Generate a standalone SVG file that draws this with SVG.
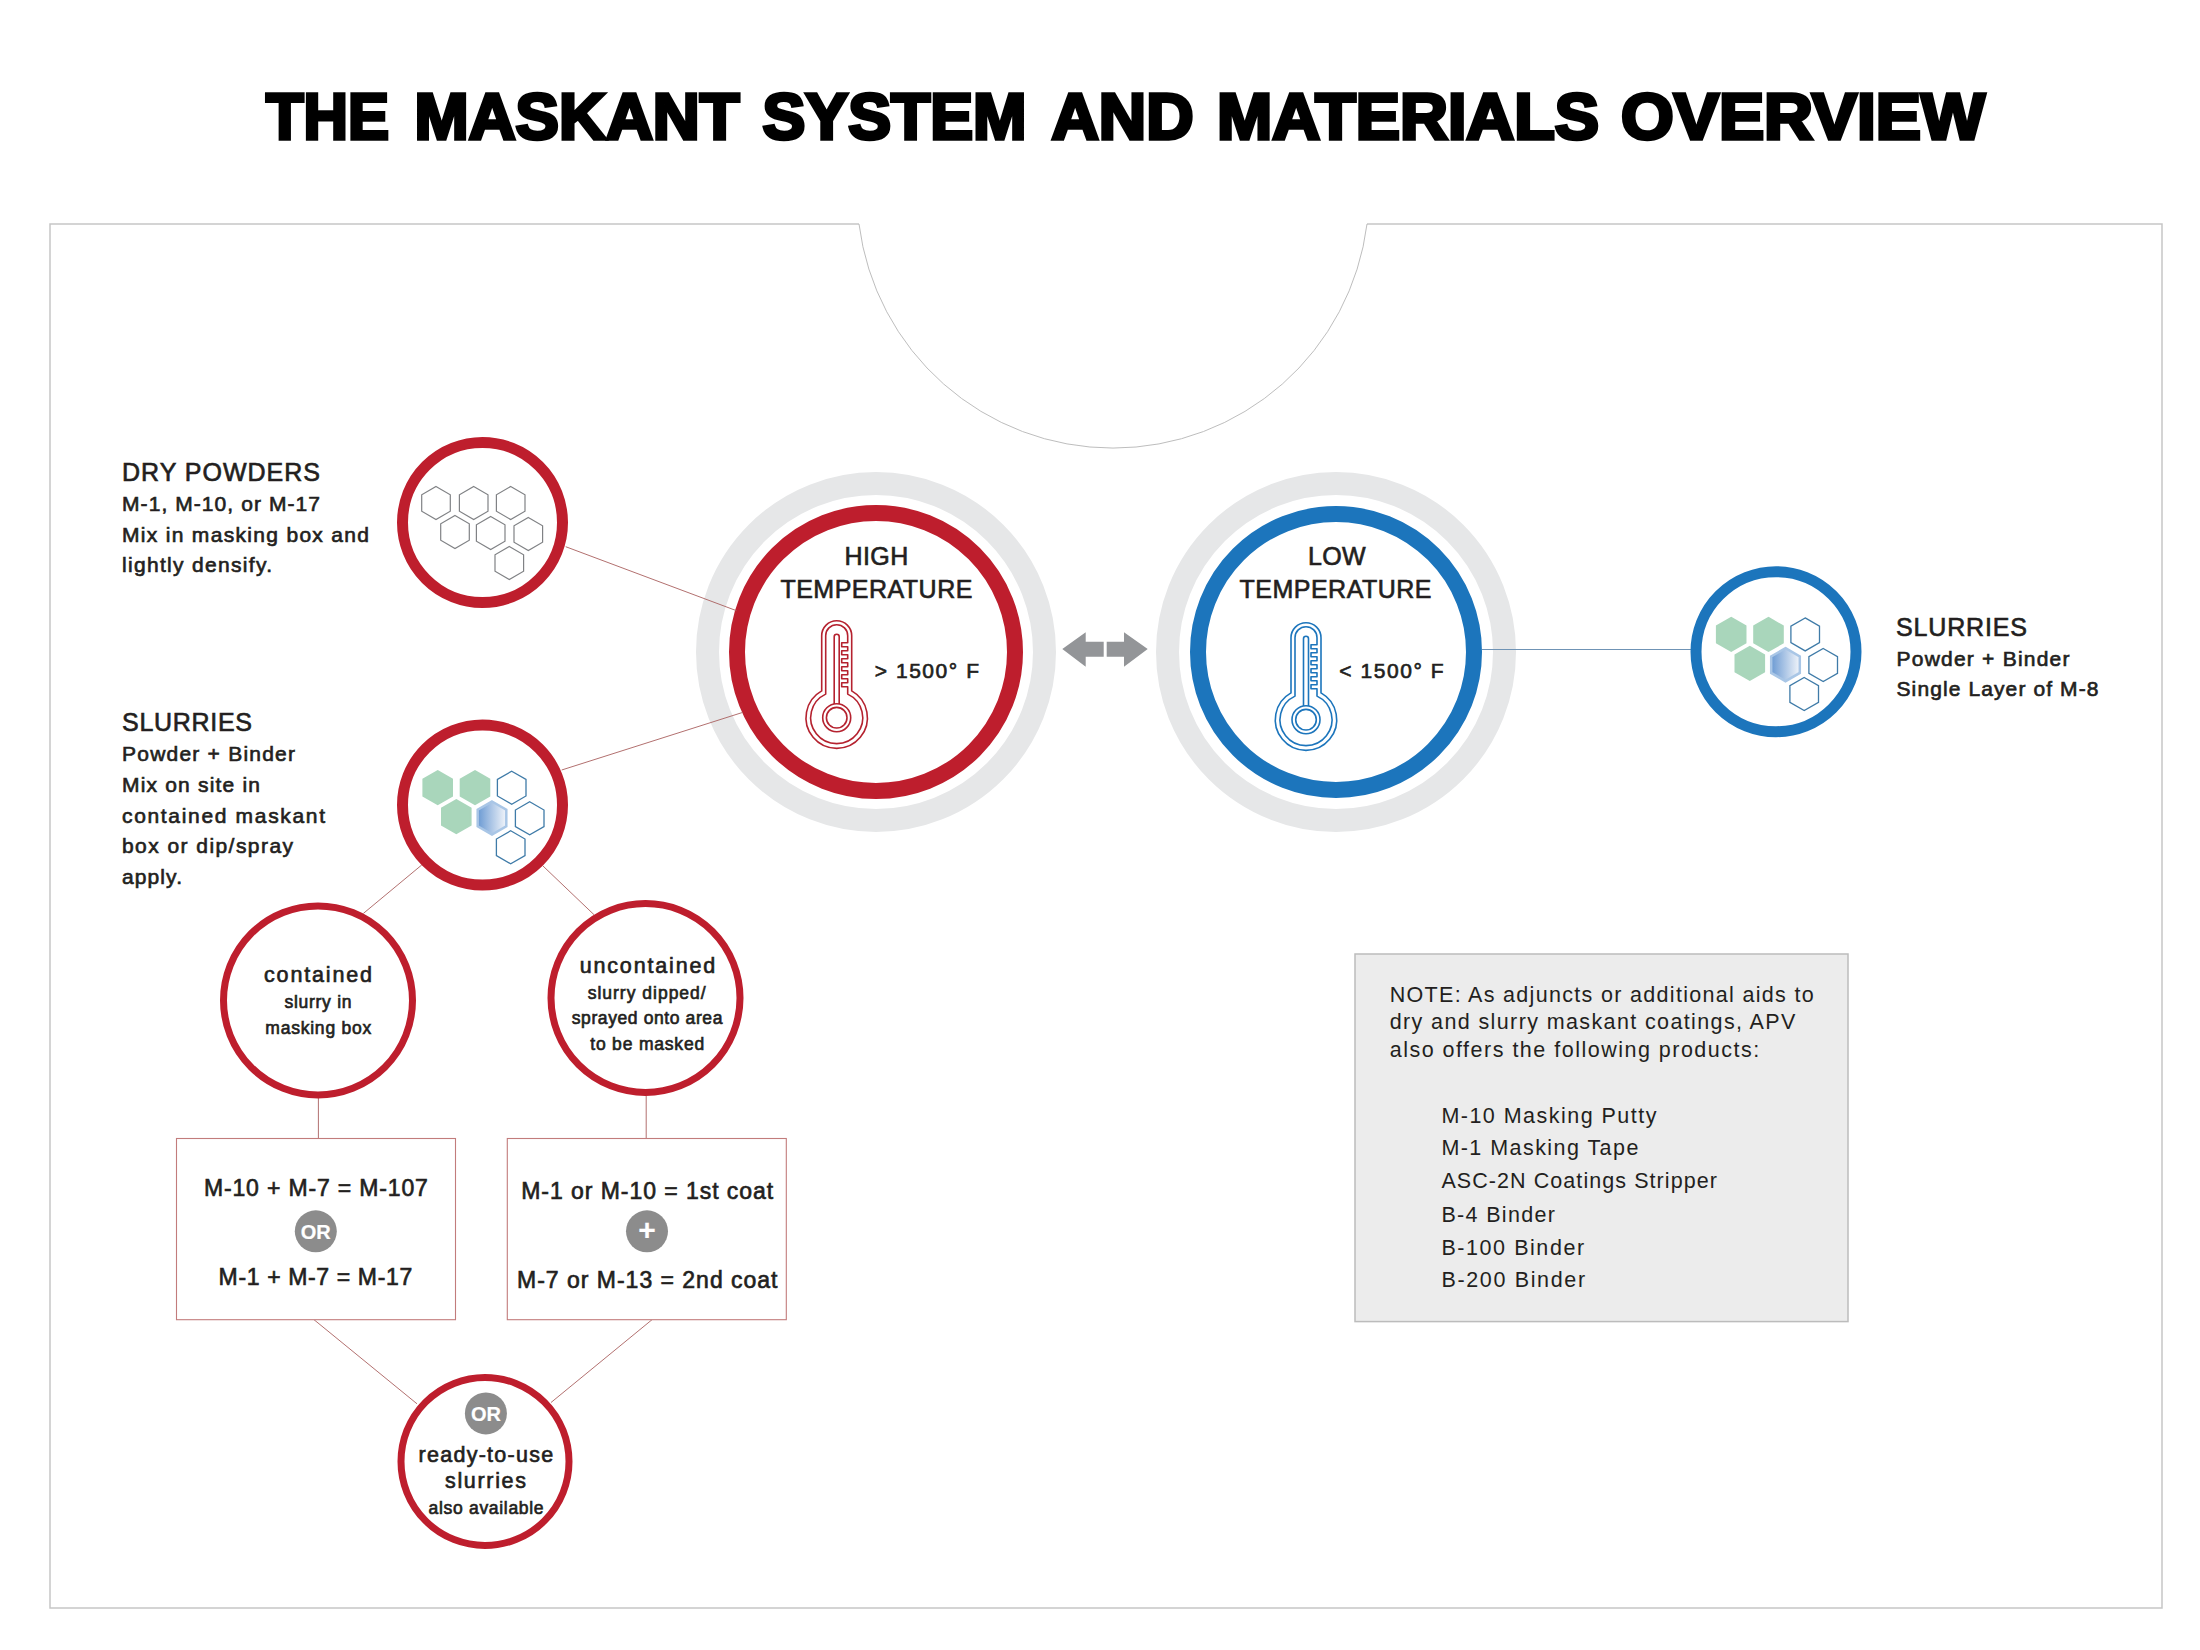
<svg xmlns="http://www.w3.org/2000/svg" width="2200" height="1650" viewBox="0 0 2200 1650">
<style>
text{font-family:"Liberation Sans",Arial,sans-serif;fill:#231f20;stroke:#231f20;stroke-width:.65}
.title{font-size:64px;font-weight:700;fill:#000;stroke:#000;stroke-width:3.6}
.h{font-size:25px}
.b{font-size:21px}
.s{font-size:17.5px}
.m{font-size:21.5px}
.eq{font-size:23px}
.n{font-size:21.5px;stroke-width:0}
.t{font-size:25px}
.w{fill:#fff;stroke:#fff;font-weight:700;font-size:20px;text-anchor:middle;stroke-width:.2}
.frame{fill:none;stroke:#c6c6c6;stroke-width:1.5}
.arc{fill:none;stroke:#b5b5b5;stroke-width:.9}
.ring{fill:#fff;stroke:#e6e7e8;stroke-width:23}
.red{fill:#fff;stroke:#be1e2d}
.blue{fill:#fff;stroke:#1c75bc}
.big{stroke-width:16}
.mid{stroke-width:11}
.sml{stroke-width:7}
.cr{fill:none;stroke:#a9605f;stroke-width:.9}
.cb{fill:none;stroke:#6f93b5;stroke-width:1}
.box{fill:#fff;stroke:#c27c7c;stroke-width:1.1}
.hg{fill:#fff;stroke:#808285;stroke-width:1.2}
.hb{fill:#fff;stroke:#3f7ba8;stroke-width:1.3}
.hgr{fill:#a9d6bb;stroke:#a9d6bb;stroke-width:2}
.hgd{fill:url(#hexgrad);stroke:#a9c6e6;stroke-width:2.5}
.orb{fill:#8c8c8c}
.note{fill:#ececec;stroke:#bcbcbc;stroke-width:1.5}
.arrow{fill:#939598}
.th{fill:none;stroke-width:1.6;stroke-linejoin:round}
</style>
<defs>
<linearGradient id="hexgrad" x1="0" x2="1" y1="0" y2="0"><stop offset="0" stop-color="#6b9ad3"/><stop offset="1" stop-color="#f2f5fa"/></linearGradient>
<polygon id="hex" points="0,-16.5 14.3,-8.25 14.3,8.25 0,16.5 -14.3,8.25 -14.3,-8.25"/>
<g id="hexset">
<use href="#hex" class="hgr" x="-44.8" y="-17.3"/>
<use href="#hex" class="hgr" x="-7.5" y="-17.3"/>
<use href="#hex" class="hgr" x="-26.2" y="11.7"/>
<use href="#hex" class="hgd" x="9.5" y="13"/>
<use href="#hex" class="hb" x="29.2" y="-17.3"/>
<use href="#hex" class="hb" x="47.2" y="13.3"/>
<use href="#hex" class="hb" x="28.2" y="42.3"/>
</g>
<g id="thermo">
<path d="M-15,-26.8 V-82 a15,15 0 0 1 30,0 V-26.8 A30.7,30.7 0 1 1 -15,-26.8 Z"/>
<path d="M-11,-23.6 V-82 a11,11 0 0 1 22,0 V-75 H5 V-71 H11 V-67 H5 V-63 H11 V-59 H5 V-55 H11 V-51 H5 V-47 H11 V-43 H5 V-39 H11 V-35 H5 V-31 H11 V-23.6 A26,26 0 1 1 -11,-23.6 Z"/>
<path d="M-2.5,-13.8 V-81 a2.5,2.5 0 0 1 5,0 V-13.8"/>
<circle r="14"/>
<circle r="10.3"/>
</g>
</defs>
<rect width="2200" height="1650" fill="#fff"/>
<text id="title" class="title" y="138.5"><tspan x="266" textLength="123" lengthAdjust="spacingAndGlyphs">THE</tspan> <tspan x="414.5" textLength="325" lengthAdjust="spacingAndGlyphs">MASKANT</tspan> <tspan x="762.5" textLength="264" lengthAdjust="spacingAndGlyphs">SYSTEM</tspan> <tspan x="1051.5" textLength="142" lengthAdjust="spacingAndGlyphs">AND</tspan> <tspan x="1217" textLength="382" lengthAdjust="spacingAndGlyphs">MATERIALS</tspan> <tspan x="1621" textLength="364" lengthAdjust="spacingAndGlyphs">OVERVIEW</tspan></text>
<path class="frame" d="M859,224 H50 V1608 H2162 V224 H1367"/>
<path class="arc" d="M1367,224 A256,256 0 0 1 859,224"/>

<g id="high-temperature">
<circle class="ring" cx="876" cy="652" r="168.5"/>
<circle class="red big" cx="876" cy="652" r="139"/>
<text class="t" x="844.6" y="564.7" textLength="63.6">HIGH</text>
<text class="t" x="780.4" y="598.3" textLength="192">TEMPERATURE</text>
<use href="#thermo" class="th" x="836.7" y="717.7" stroke="#b5222f"/>
<text class="b" x="874.7" y="677.7" textLength="104.3">&gt; 1500° F</text>
</g>

<g id="low-temperature">
<circle class="ring" cx="1336" cy="652" r="168.5"/>
<circle class="blue big" cx="1336" cy="652" r="138"/>
<text class="t" x="1308" y="564.7" textLength="57.6">LOW</text>
<text class="t" x="1239.5" y="598.3" textLength="192">TEMPERATURE</text>
<use href="#thermo" class="th" x="1306" y="719.7" stroke="#1c75bc"/>
<text class="b" x="1339.3" y="677.7" textLength="104.3">&lt; 1500° F</text>
</g>

<g id="connectors">
<line class="cr" x1="565.7" y1="546.7" x2="736.5" y2="610.7"/>
<line class="cr" x1="561.7" y1="770" x2="743" y2="712.3"/>
<line class="cb" x1="1482" y1="649.5" x2="1691" y2="649.5"/>
<line class="cr" x1="421.7" y1="865" x2="363.4" y2="913.4"/>
<line class="cr" x1="543" y1="866" x2="594" y2="914.7"/>
<line class="cr" x1="318.4" y1="1098" x2="318.4" y2="1138.5"/>
<line class="cr" x1="646.2" y1="1095.5" x2="646.2" y2="1138.5"/>
<line class="cr" x1="314" y1="1319.7" x2="417" y2="1403.8"/>
<line class="cr" x1="652" y1="1319.7" x2="551" y2="1402.5"/>
</g>

<g id="double-arrow">
<polygon class="arrow" points="1062.3,649 1085.7,632.3 1085.7,641.7 1103.7,641.7 1103.7,656.7 1085.7,656.7 1085.7,666.7"/>
<polygon class="arrow" points="1147.7,649 1124,632.3 1124,641.7 1106.7,641.7 1106.7,656.7 1124,656.7 1124,666.7"/>
</g>

<g id="dry-powders">
<circle class="red mid" cx="482.5" cy="522.5" r="80"/>
<use href="#hex" class="hg" x="436" y="503"/>
<use href="#hex" class="hg" x="473.7" y="503"/>
<use href="#hex" class="hg" x="510.7" y="503"/>
<use href="#hex" class="hg" x="455" y="532"/>
<use href="#hex" class="hg" x="490.7" y="533"/>
<use href="#hex" class="hg" x="528.3" y="534"/>
<use href="#hex" class="hg" x="509.3" y="563"/>
<text class="h" x="122" y="480.7" textLength="198">DRY POWDERS</text>
<text class="b" x="122" y="511" textLength="198">M-1, M-10, or M-17</text>
<text class="b" x="122" y="541.7" textLength="247">Mix in masking box and</text>
<text class="b" x="122" y="572" textLength="150">lightly densify.</text>
</g>

<g id="slurries-high">
<circle class="red mid" cx="482.5" cy="805" r="80"/>
<use href="#hexset" x="482.5" y="805"/>
<text class="h" x="122" y="730.7" textLength="130">SLURRIES</text>
<text class="b" x="122" y="761" textLength="173">Powder + Binder</text>
<text class="b" x="122" y="792" textLength="138">Mix on site in</text>
<text class="b" x="122" y="822.7" textLength="203">contained maskant</text>
<text class="b" x="122" y="853" textLength="171">box or dip/spray</text>
<text class="b" x="122" y="884" textLength="60">apply.</text>
</g>

<g id="slurries-low">
<circle class="blue mid" cx="1776" cy="651.7" r="80"/>
<use href="#hexset" x="1776" y="651.7"/>
<text class="h" x="1896" y="635.7" textLength="131">SLURRIES</text>
<text class="b" x="1896.5" y="666" textLength="173">Powder + Binder</text>
<text class="b" x="1896.5" y="696" textLength="202">Single Layer of M-8</text>
</g>

<g id="contained">
<circle class="red sml" cx="318" cy="1000.4" r="94.5"/>
<text class="m" x="264" y="982.3" textLength="108">contained</text>
<text class="s" x="284.5" y="1007.5" textLength="67">slurry in</text>
<text class="s" x="265.3" y="1033.5" textLength="106">masking box</text>
</g>

<g id="uncontained">
<circle class="red sml" cx="645.5" cy="998" r="94.5"/>
<text class="m" x="579.7" y="972.8" textLength="135.5">uncontained</text>
<text class="s" x="587.7" y="998.8" textLength="118">slurry dipped/</text>
<text class="s" x="571.7" y="1024.4" textLength="150.7">sprayed onto area</text>
<text class="s" x="590.2" y="1049.6" textLength="114">to be masked</text>
</g>

<g id="box-contained">
<rect class="box" x="176.5" y="1138.5" width="279" height="181.2"/>
<text class="eq" x="203.9" y="1196" textLength="224">M-10 + M-7 = M-107</text>
<circle class="orb" cx="315.8" cy="1231.3" r="21"/>
<text class="w" x="315.8" y="1238.5">OR</text>
<text class="eq" x="218.6" y="1285" textLength="193.6">M-1 + M-7 = M-17</text>
</g>

<g id="box-uncontained">
<rect class="box" x="507.3" y="1138.5" width="279" height="181.2"/>
<text class="eq" x="521.2" y="1198.7" textLength="252">M-1 or M-10 = 1st coat</text>
<circle class="orb" cx="647" cy="1231.3" r="21"/>
<text class="w" x="647" y="1240" style="font-size:30px">+</text>
<text class="eq" x="517" y="1287.6" textLength="260.5">M-7 or M-13 = 2nd coat</text>
</g>

<g id="ready-to-use">
<circle class="red sml" cx="485" cy="1461.5" r="84"/>
<circle class="orb" cx="485.9" cy="1413.4" r="21"/>
<text class="w" x="485.9" y="1420.6">OR</text>
<text class="m" x="418.5" y="1462" textLength="134.7">ready-to-use</text>
<text class="m" x="445" y="1488" textLength="81">slurries</text>
<text class="s" x="428.6" y="1513.6" textLength="115">also available</text>
</g>

<g id="note">
<rect class="note" x="1355" y="954" width="493" height="367.6"/>
<text class="n" x="1389.7" y="1001.7" textLength="424">NOTE: As adjuncts or additional aids to</text>
<text class="n" x="1389.7" y="1029.3" textLength="405.7">dry and slurry maskant coatings, APV</text>
<text class="n" x="1389.7" y="1057.3" textLength="369.5">also offers the following products:</text>
<text class="n" x="1441.4" y="1122.7" textLength="215">M-10 Masking Putty</text>
<text class="n" x="1441.4" y="1155.3" textLength="197">M-1 Masking Tape</text>
<text class="n" x="1441.4" y="1188" textLength="275.5">ASC-2N Coatings Stripper</text>
<text class="n" x="1441.4" y="1222" textLength="113.6">B-4 Binder</text>
<text class="n" x="1441.4" y="1254.7" textLength="142.7">B-100 Binder</text>
<text class="n" x="1441.4" y="1287.3" textLength="143.7">B-200 Binder</text>
</g>
</svg>
